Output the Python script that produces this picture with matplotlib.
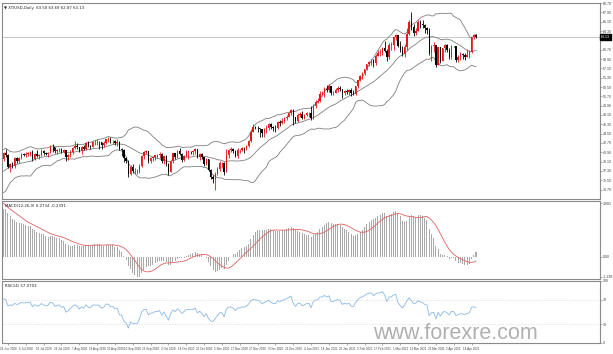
import numpy as np
import pandas as pd
import matplotlib
matplotlib.use("Agg")
import matplotlib.pyplot as plt
import matplotlib.transforms as mtransforms

symbol_title = "XTIUSD,Daily  63.50 63.69 62.87 63.13"

# closes before the visible window (indicator warm-up, Apr-Jun 2020)
warmup_close = [20.31, 25.32, 28.34, 26.08, 23.63, 25.09, 22.76, 22.41, 20.11, 19.87,
                19.87, 18.27, 21.03, 20.37, 11.57, 13.78, 16.50, 17.18, 12.78, 12.34,
                15.06, 18.84,
                19.78, 20.39, 24.56, 23.99, 23.55, 24.74, 24.14, 25.78, 25.29, 27.56,
                29.43, 31.82, 32.50, 33.49, 33.92, 33.25, 33.50, 34.35, 32.81, 33.71,
                35.49, 35.44, 36.81, 37.29, 37.41, 39.55, 38.19, 38.94, 39.60, 36.34,
                36.26, 37.12, 38.38, 37.96, 38.84, 39.75]

opens = [39.6, 40.7, 40.4, 38.0, 38.7, 38.3, 39.7, 39.3, 39.8, 40.6,
         40.4, 40.6, 40.6, 40.9, 39.6, 40.5, 40.1, 40.3, 41.2, 40.8,
         40.6, 40.8, 42.0, 41.9, 41.1, 41.3, 41.6, 41.0, 41.3, 39.9,
         40.3, 41.0, 41.7, 42.2, 41.9, 41.2, 41.9, 41.6, 42.7, 42.2,
         42.0, 42.9, 42.9, 42.9, 42.8, 42.3, 42.6, 43.4, 43.4, 43.0,
         43.0, 42.6, 42.8, 41.5, 41.4, 39.8, 39.2, 36.8, 38.1, 37.3,
         37.3, 37.3, 38.3, 40.2, 41.0, 41.1, 39.3, 39.8, 39.9, 40.3,
         40.3, 40.6, 39.3, 40.2, 38.7, 37.1, 39.2, 40.7, 40.0, 41.2,
         40.6, 39.4, 40.2, 41.0, 41.0, 40.9, 41.1, 41.5, 40.0, 40.6,
         39.9, 38.6, 39.6, 37.4, 36.2, 35.8, 36.8, 37.7, 38.8, 38.8,
         37.1, 40.3, 41.4, 41.5, 41.1, 40.1, 41.3, 41.4, 41.8, 41.7,
         42.2, 43.1, 44.9, 45.7, 45.6, 45.5, 45.3, 44.6, 45.3, 45.6,
         46.3, 45.8, 45.6, 45.5, 46.8, 46.6, 47.0, 47.6, 47.8, 48.4,
         49.1, 47.7, 47.0, 48.1, 48.2, 47.6, 48.0, 48.4, 48.5, 47.6,
         49.9, 50.6, 50.8, 52.2, 52.3, 53.2, 52.9, 53.6, 52.4, 52.4,
         53.0, 53.3, 53.1, 52.3, 52.8, 52.6, 52.9, 52.3, 52.2, 53.6,
         54.8, 55.7, 56.2, 56.9, 58.0, 58.4, 58.7, 58.2, 59.5, 60.0,
         60.1, 61.1, 60.5, 59.2, 61.7, 61.7, 63.2, 63.5, 61.5, 60.6,
         59.8, 61.3, 63.8, 66.1, 65.1, 64.0, 64.4, 66.0, 65.6, 65.4,
         64.8, 64.6, 60.0, 61.4, 61.6, 57.8, 61.2, 58.6, 61.0, 61.6,
         60.6, 59.2, 61.5, 61.4, 58.7, 59.3, 59.8, 59.6, 59.3, 59.7,
         60.2, 63.2, 63.5]

highs = [40.9, 41.6, 40.5, 38.9, 39.0, 39.9, 39.9, 40.0, 40.8, 40.7,
         41.0, 41.0, 41.1, 41.3, 40.7, 41.4, 40.5, 41.5, 41.3, 41.0,
         41.0, 42.3, 42.5, 42.0, 41.5, 41.8, 41.7, 41.6, 41.3, 40.5,
         41.3, 41.9, 43.0, 42.6, 42.0, 42.1, 42.4, 42.9, 43.0, 42.4,
         43.1, 43.2, 43.5, 43.0, 42.9, 43.0, 43.5, 43.8, 43.8, 43.3,
         43.2, 43.4, 43.0, 41.7, 41.5, 39.9, 39.4, 38.5, 38.6, 37.8,
         37.7, 38.6, 40.3, 41.2, 41.3, 41.2, 40.0, 40.2, 40.4, 40.5,
         40.9, 40.7, 40.4, 40.3, 38.8, 39.4, 40.8, 40.7, 41.4, 41.7,
         40.8, 40.4, 41.3, 41.1, 41.2, 41.3, 41.7, 41.6, 40.8, 40.7,
         40.0, 39.8, 39.6, 37.6, 36.6, 37.0, 38.1, 39.3, 39.0, 39.0,
         41.6, 41.5, 42.0, 41.8, 41.3, 41.7, 41.6, 42.0, 41.9, 42.4,
         43.3, 45.2, 46.3, 46.0, 46.0, 45.6, 45.4, 45.5, 46.2, 46.5,
         46.6, 46.0, 46.2, 47.0, 47.2, 47.5, 47.8, 48.1, 48.6, 49.3,
         49.2, 47.8, 48.4, 48.6, 48.9, 48.2, 48.6, 48.6, 49.8, 50.2,
         50.9, 51.3, 52.7, 52.8, 53.5, 53.9, 54.0, 53.6, 52.7, 53.4,
         53.6, 53.6, 53.2, 53.0, 53.2, 53.2, 53.3, 52.9, 53.7, 54.9,
         55.9, 56.4, 57.0, 58.0, 58.6, 58.9, 58.9, 59.8, 60.6, 60.9,
         61.3, 62.3, 60.8, 61.9, 62.2, 63.3, 63.8, 63.6, 62.3, 61.4,
         61.8, 64.9, 66.4, 68.0, 65.6, 64.9, 66.4, 66.4, 66.4, 65.7,
         65.0, 64.9, 61.6, 62.1, 61.7, 61.3, 61.3, 61.1, 61.8, 61.8,
         61.0, 61.7, 61.5, 61.5, 59.6, 60.2, 60.1, 60.0, 60.8, 60.7,
         63.2, 63.8, 63.7]

lows = [39.2, 39.9, 37.8, 37.1, 37.8, 37.9, 38.8, 38.8, 39.6, 40.1,
        39.9, 40.2, 40.1, 39.3, 39.4, 39.9, 39.6, 40.2, 40.3, 40.4,
        40.0, 40.7, 41.0, 40.8, 40.5, 40.9, 40.7, 40.7, 39.2, 39.5,
        39.9, 40.6, 41.6, 41.6, 40.9, 40.6, 41.3, 41.4, 41.9, 41.5,
        41.9, 42.4, 42.4, 41.6, 41.6, 42.0, 42.5, 42.9, 42.6, 42.5,
        42.3, 42.1, 41.3, 40.2, 39.0, 38.9, 36.1, 36.5, 36.9, 36.8,
        36.8, 36.9, 38.0, 39.6, 40.5, 38.8, 38.9, 39.2, 39.4, 39.7,
        39.8, 38.9, 38.7, 38.3, 36.6, 37.0, 38.9, 39.6, 39.8, 40.4,
        39.1, 39.3, 39.9, 39.6, 40.5, 40.4, 40.6, 39.8, 39.4, 39.6,
        38.2, 38.4, 37.2, 35.7, 34.9, 33.6, 36.6, 37.2, 37.9, 36.6,
        37.0, 39.8, 41.0, 40.7, 39.9, 39.7, 40.7, 41.1, 40.8, 41.3,
        41.9, 42.9, 44.8, 45.3, 44.9, 43.8, 43.9, 43.9, 44.7, 45.2,
        45.4, 45.1, 44.9, 45.4, 46.0, 46.4, 46.6, 47.2, 47.7, 48.0,
        46.2, 46.6, 46.7, 47.8, 47.4, 47.4, 47.9, 47.7, 47.2, 47.3,
        49.5, 50.4, 50.7, 51.8, 51.6, 52.6, 52.6, 51.9, 52.0, 52.3,
        52.6, 52.8, 51.4, 51.9, 52.2, 52.0, 51.7, 51.9, 51.9, 53.4,
        54.6, 55.1, 55.9, 56.8, 57.6, 57.8, 57.3, 57.8, 59.4, 59.4,
        59.6, 60.2, 58.6, 59.0, 60.7, 60.7, 62.5, 61.3, 60.2, 59.4,
        59.2, 60.6, 63.6, 64.6, 63.4, 63.6, 64.3, 64.8, 64.9, 63.9,
        63.8, 59.7, 58.6, 60.3, 57.3, 57.7, 58.1, 58.5, 60.2, 60.2,
        59.0, 58.9, 61.2, 58.4, 58.3, 58.7, 58.9, 58.8, 59.2, 59.1,
        60.0, 62.8, 62.9]

closes = [40.7, 40.4, 38.0, 38.7, 38.5, 39.7, 39.3, 39.8, 40.6, 40.4,
          40.6, 40.6, 40.9, 39.6, 40.5, 40.1, 40.3, 41.2, 40.8, 40.6,
          40.8, 42.0, 41.9, 41.1, 41.3, 41.6, 41.0, 41.3, 39.9, 40.3,
          41.0, 41.7, 42.2, 41.9, 41.2, 41.9, 41.6, 42.7, 42.2, 42.0,
          42.9, 42.9, 42.9, 42.8, 42.3, 42.6, 43.4, 43.4, 43.0, 43.0,
          42.6, 42.8, 41.5, 41.4, 39.8, 39.2, 36.8, 38.1, 37.3, 37.3,
          37.3, 38.3, 40.2, 41.0, 41.1, 39.3, 39.8, 39.9, 40.3, 40.3,
          40.6, 39.3, 40.2, 38.7, 37.1, 39.2, 40.7, 40.0, 41.2, 40.6,
          39.4, 40.2, 41.0, 41.0, 40.9, 41.1, 41.5, 40.0, 40.6, 39.9,
          38.6, 39.6, 37.4, 36.2, 35.8, 36.8, 37.7, 38.8, 38.8, 37.1,
          40.3, 41.4, 41.5, 41.1, 40.1, 41.3, 41.4, 41.8, 41.7, 42.2,
          43.1, 44.9, 45.7, 45.6, 45.5, 45.3, 44.6, 45.3, 45.6, 46.3,
          45.8, 45.6, 45.5, 46.8, 46.6, 47.0, 47.6, 47.8, 48.4, 49.1,
          47.7, 47.0, 48.1, 48.2, 47.6, 48.0, 48.4, 48.5, 47.6, 49.9,
          50.6, 50.8, 52.2, 52.3, 53.2, 52.9, 53.6, 52.4, 52.4, 53.0,
          53.3, 53.1, 52.3, 52.8, 52.6, 52.9, 52.3, 52.2, 53.6, 54.8,
          55.7, 56.2, 56.9, 58.0, 58.4, 58.7, 58.2, 59.5, 60.0, 60.1,
          61.1, 60.5, 59.2, 61.7, 61.7, 63.2, 63.5, 61.5, 60.6, 59.8,
          61.3, 63.8, 66.1, 65.1, 64.0, 64.4, 66.0, 65.6, 65.4, 64.8,
          64.6, 60.0, 61.4, 61.6, 57.8, 61.2, 58.6, 61.0, 61.6, 60.6,
          59.2, 61.5, 61.4, 58.7, 59.3, 59.8, 59.6, 59.3, 59.7, 60.2,
          63.2, 63.5, 63.13]

date_labels = ["24 Jun 2020", "6 Jul 2020", "16 Jul 2020", "28 Jul 2020", "7 Aug 2020",
               "19 Aug 2020", "31 Aug 2020", "10 Sep 2020", "22 Sep 2020", "2 Oct 2020",
               "14 Oct 2020", "26 Oct 2020", "5 Nov 2020", "17 Nov 2020", "27 Nov 2020",
               "9 Dec 2020", "21 Dec 2020", "4 Jan 2021", "14 Jan 2021", "26 Jan 2021",
               "5 Feb 2021", "17 Feb 2021", "1 Mar 2021", "11 Mar 2021", "23 Mar 2021",
               "2 Apr 2021", "14 Apr 2021"]
date_label_bars = [2, 10, 18, 26, 34, 42, 50, 58, 66, 74, 82, 90, 98, 106, 114, 122,
                   130, 138, 146, 154, 162, 170, 178, 186, 194, 202, 210]

price_ticks = [69.70, 67.90, 66.10, 64.30, 60.70, 58.90, 57.10, 55.30, 53.50, 51.70,
               49.90, 48.10, 46.30, 44.50, 42.70, 40.90, 39.10, 37.30, 35.50, 33.70]
rsi_ticks = [100, 70, 30, 0]

# ---------------- indicators ----------------
nw = len(warmup_close)
full_close = pd.Series(warmup_close + closes)
mid = full_close.rolling(20).mean()
sd = full_close.rolling(20).std(ddof=0)
bb_mid = mid.values[nw:]
bb_up = (mid + 2 * sd).values[nw:]
bb_lo = (mid - 2 * sd).values[nw:]

ema12 = full_close.ewm(span=12, adjust=False).mean()
ema26 = full_close.ewm(span=26, adjust=False).mean()
macd_full = ema12 - ema26
signal_full = macd_full.rolling(9).mean()
macd = macd_full.values[nw:]
signal = signal_full.values[nw:]

delta = full_close.diff()
gain = delta.clip(lower=0).ewm(alpha=1 / 14, adjust=False).mean()
loss = (-delta.clip(upper=0)).ewm(alpha=1 / 14, adjust=False).mean()
rsi_full = 100 - 100 / (1 + gain / loss)
rsi = rsi_full.values[nw:]

n = len(closes)
x = np.arange(n)

# ---------------- figure ----------------
W, H = 613, 354
fig = plt.figure(figsize=(W / 100, H / 100), dpi=100)
fig.patch.set_facecolor("white")

left_px, right_px = 2, 600
px_per_bar = (476 - 3.5) / (n - 1)
x0 = -(3.5 - left_px) / px_per_bar
x1 = x0 + (right_px - left_px) / px_per_bar
AX_FONT = ["Liberation Sans", "DejaVu Sans"]


def make_ax(top, bottom):
    ax = fig.add_axes([left_px / W, 1 - bottom / H, (right_px - left_px) / W, (bottom - top) / H])
    ax.set_facecolor("white")
    for s in ax.spines.values():
        s.set_color("#8a8a8a")
        s.set_linewidth(0.8)
    ax.yaxis.tick_right()
    ax.tick_params(axis="y", labelsize=2.6, length=1.5, width=0.5, colors="#8a8a8a",
                   labelcolor="#444444", pad=0.6)
    ax.set_xlim(x0, x1)
    ax.set_xticks([])
    return ax


ax_p = make_ax(3, 199)
ax_m = make_ax(201, 279)
ax_r = make_ax(281, 343)

# ---- price panel ----
o = np.array(opens); h = np.array(highs); l = np.array(lows); c = np.array(closes)
up = c >= o
cols = np.where(up, "#e8151b", "#000000")
ax_p.vlines(x, l, h, colors=cols, linewidth=0.6, zorder=3)
body_bot = np.minimum(o, c)
body_h = np.maximum(np.abs(c - o), 0.08)
ax_p.bar(x, body_h, bottom=body_bot, width=0.62, color=cols, linewidth=0, zorder=4)
ax_p.plot(x, bb_up, color="#7f7f7f", lw=0.6, zorder=2)
ax_p.plot(x, bb_mid, color="#7f7f7f", lw=0.6, zorder=2)
ax_p.plot(x, bb_lo, color="#7f7f7f", lw=0.6, zorder=2)

p_top = 67.98 + (12 - 3) / 5.18
p_bot = 67.98 - (199 - 12) / 5.18
ax_p.set_ylim(p_bot, p_top)
ax_p.set_yticks(price_ticks)
ax_p.set_yticklabels([f"{v:.2f}" for v in price_ticks], family=AX_FONT)
last = closes[-1]
ax_p.axhline(last, color="#c8c8c8", lw=0.7, zorder=1)
trans = mtransforms.blended_transform_factory(ax_p.transAxes, ax_p.transData)
ax_p.text(1.002, last, f"{last:.2f}", transform=trans, fontsize=2.6, color="white",
          va="center", ha="left", family=AX_FONT,
          bbox=dict(boxstyle="square,pad=0.3", fc="black", ec="black"))
fig.text(4 / W, 1 - 8 / H, "\u25bc " + symbol_title, fontsize=2.8, color="#222222",
         va="center", ha="left")

# ---- MACD panel ----
ax_m.bar(x, macd, width=0.45, color="#a9a9a9", linewidth=0, zorder=2)
ax_m.plot(x, signal, color="#e06060", lw=0.6, zorder=3)
mmax = np.nanmax(np.concatenate([macd, signal]))
mmin = np.nanmin(np.concatenate([macd, signal]))
ax_m.set_ylim(mmin - 0.03 * (mmax - mmin), mmax + 0.03 * (mmax - mmin))
ax_m.set_yticks([mmax, 0.0, mmin])
ax_m.set_yticklabels([f"{mmax:.3f}", "0.00", f"{mmin:.3f}"], family=AX_FONT)
fig.text(5 / W, 1 - 206 / H, f"MACD(12,26,9) {macd[-1]:.4f} {signal[-1]:.4f}",
         fontsize=2.8, color="#222222", va="center", ha="left")

# ---- RSI panel ----
ax_r.plot(x, rsi, color="#8ab8e6", lw=0.6, zorder=3)
for lvl in (70, 30):
    ax_r.axhline(lvl, color="#d9d9d9", lw=0.5, ls=(0, (2, 2)), zorder=1)
ax_r.set_ylim(0, 100)
ax_r.set_yticks(rsi_ticks)
ax_r.set_yticklabels([str(v) for v in rsi_ticks], family=AX_FONT)
fig.text(5 / W, 1 - 286 / H, f"RSI(14) {rsi[-1]:.4f}", fontsize=2.8, color="#222222",
         va="center", ha="left")

ax_r.set_xticks(date_label_bars)
ax_r.set_xticklabels(date_labels, family=AX_FONT)
ax_r.tick_params(axis="x", labelsize=2.2, length=1.5, width=0.5, colors="#8a8a8a",
                 labelcolor="#444444", pad=1.5)
for t in ax_r.get_xticklabels():
    t.set_ha("center")

# ---- watermark ----
fig.text(455 / W, 1 - 339 / H, "www.forexre.com", fontsize=15.5, color="#b0b0b0",
         family="Liberation Sans", ha="center", va="baseline")

fig.savefig("out.png", dpi=100, facecolor="white")
